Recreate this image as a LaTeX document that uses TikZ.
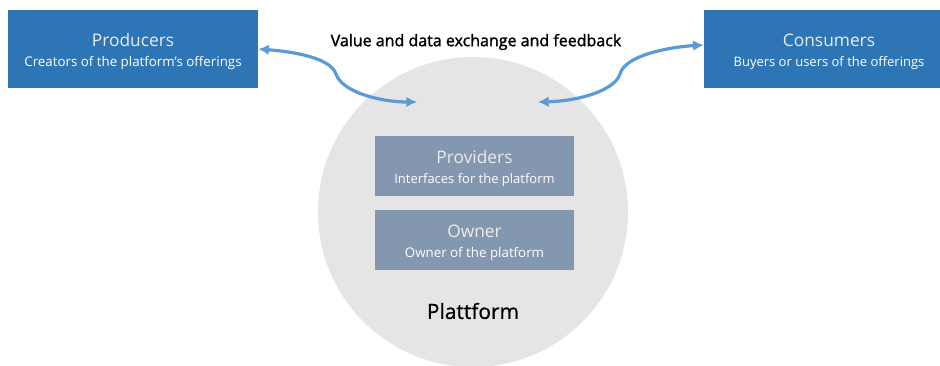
\documentclass[tikz,border=0pt]{standalone}
\usepackage{fontspec}
\setmainfont{Open Sans}
\newfontfamily\heavyfont[FakeBold=1.6]{Open Sans}
\newfontfamily\medfont[FakeBold=0.8]{Open Sans}
\usetikzlibrary{arrows.meta}
\definecolor{bluebox}{HTML}{2E75B6}
\definecolor{greybox}{HTML}{8497B0}
\definecolor{circ}{HTML}{E6E5E5}
\definecolor{arrowc}{HTML}{5B9BD5}
\tikzset{
 px/.style={x=0.75pt,y=-0.75pt},
 boxb/.style={fill=bluebox,draw=none,text=white,minimum width=187.5pt,minimum height=58.5pt,align=center,inner sep=0pt},
 boxg/.style={fill=greybox,draw=none,text=white,minimum width=149pt,minimum height=45pt,align=center,inner sep=0pt},
 conn/.style={draw=arrowc,line width=2.4pt,{Latex[length=8pt,width=8pt]}-{Latex[length=8pt,width=8pt]}},
}
\newcommand{\twolines}[3][10]{\rule{0pt}{13.5pt}{\fontsize{13}{15}\selectfont\color{white!92!black}#2}\\[2.5pt]{\fontsize{#1}{12}\selectfont #3}}
\begin{document}
\begin{tikzpicture}[px]
\useasboundingbox (0,0) rectangle (940,365);
\fill[white] (0,0) rectangle (940,365);
\begin{scope}
\clip (0,0) rectangle (940,365);
\node[circle,fill=circ,draw=none,minimum size=232.5pt,inner sep=0pt] (platform) at (473,212) {};
\end{scope}
\node[boxb] (prod) at (133,49) {\twolines{Producers}{Creators of the platform’s offerings}};
\node[boxb] (cons) at (829,49) {\twolines[9.75]{Consumers}{Buyers or users of the offerings}};
\node[boxg] (prov) at (474.5,166) {\twolines[9.75]{Providers}{Interfaces for the platform}};
\node[boxg] (own) at (474.5,240) {\twolines{Owner}{Owner of the platform}};
\node[font=\fontsize{15.7}{18}\selectfont\medfont,text=black] (lab) at (473,311) {Plattform};
\node[font=\fontsize{12}{14}\selectfont\heavyfont,text=black,inner sep=0pt] (top) at (476,42) {Value and data exchange and feedback};
\coordinate (inL) at (417,102);
\coordinate (inR) at (538,102);
\draw[conn] (prod.east) .. controls (285,51) and (330,56) .. (336,74)
  .. controls (342,92) and (380,102) .. (inL);
\draw[conn] ([yshift=3pt]cons.west) .. controls (670,47) and (625,55) .. (620,74)
  .. controls (615,90) and (580,101) .. (inR);
\end{tikzpicture}
\end{document}
